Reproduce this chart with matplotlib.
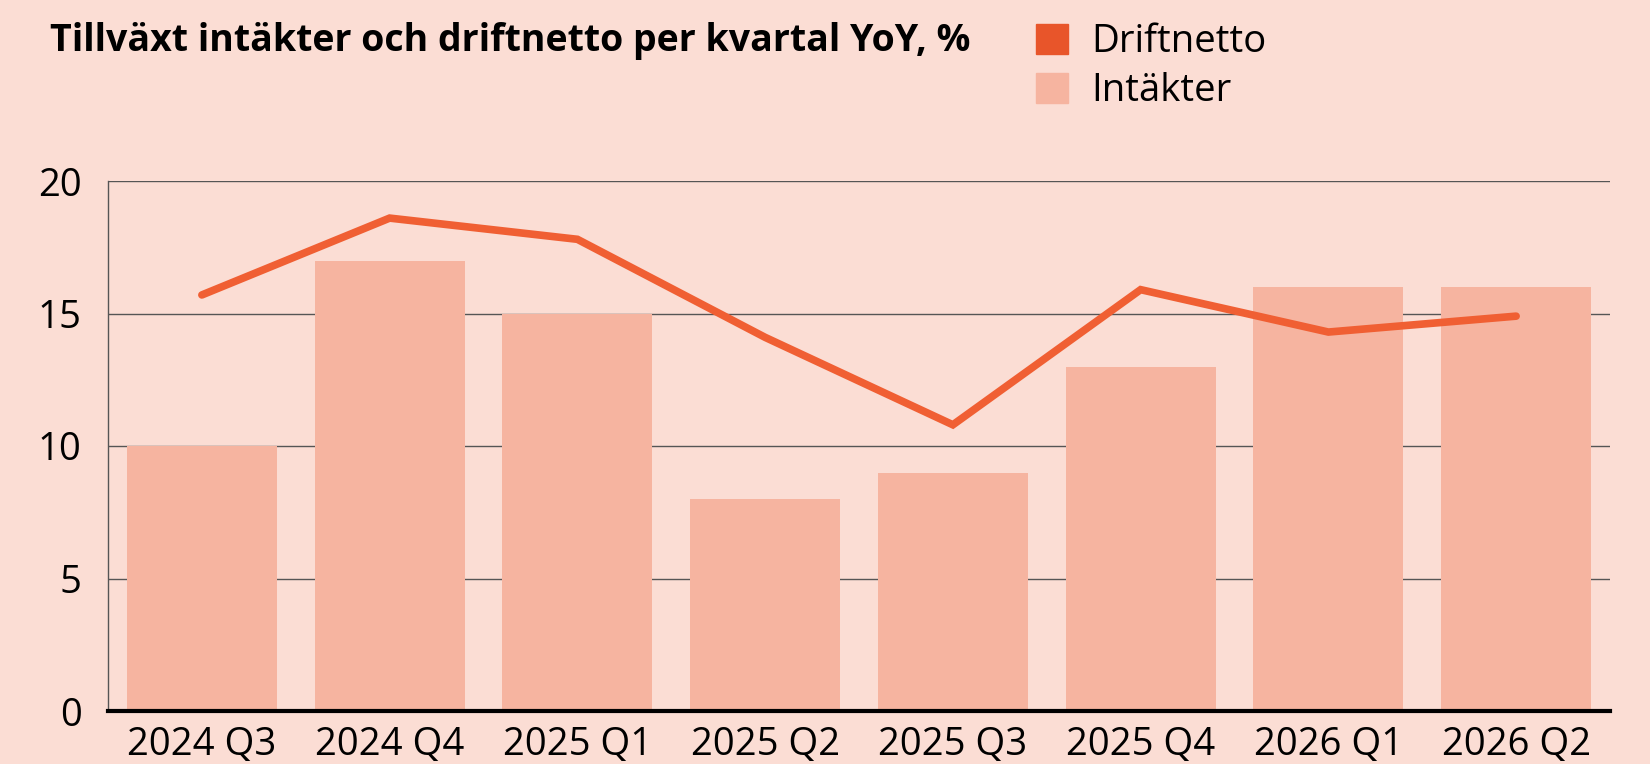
import matplotlib.pyplot as plt
import numpy as np
from matplotlib.patches import Patch

# quarterly YoY growth, %
QUARTERS = ["2024 Q3", "2024 Q4", "2025 Q1", "2025 Q2",
            "2025 Q3", "2025 Q4", "2026 Q1", "2026 Q2"]
INTAKTER = [10, 17, 15, 8, 9, 13, 16, 16]
DRIFTNETTO = [15.7, 18.6, 17.8, 14.1, 10.8, 15.9, 14.3, 14.9]
Y_TICKS = [0, 5, 10, 15, 20]

BG = "#FBDDD4"
BAR_COLOR = "#F6B4A0"
LINE_COLOR = "#F05F33"
LEGEND_LINE = "#E8552A"

plt.rcParams["font.family"] = ["Open Sans", "DejaVu Sans"]

fig = plt.figure(figsize=(16.5, 7.64), dpi=100, facecolor=BG)
ax = fig.add_axes([108 / 1650, 53 / 764, (1610 - 108) / 1650, (711 - 181) / 764])
ax.set_facecolor(BG)

x = np.arange(len(QUARTERS))
ax.bar(x, INTAKTER, width=0.8, color=BAR_COLOR, zorder=2)
ax.plot(x, DRIFTNETTO, color=LINE_COLOR, linewidth=5.5,
        solid_capstyle="round", solid_joinstyle="miter", zorder=3)

ax.set_xlim(-0.5, len(QUARTERS) - 0.5)
ax.set_ylim(0, 20)
ax.set_yticks(Y_TICKS)
ax.set_xticks(x)
ax.set_xticklabels(QUARTERS)
ax.tick_params(axis="both", length=0, labelsize=27.5, colors="black")
ax.tick_params(axis="x", pad=11)
ax.tick_params(axis="y", pad=19)

ax.grid(axis="y", color="#555555", linewidth=1.0, zorder=1)
ax.set_axisbelow(True)
for side in ("top", "right"):
    ax.spines[side].set_visible(False)
ax.spines["left"].set_color("#555555")
ax.spines["left"].set_linewidth(1.0)
ax.spines["bottom"].set_color("black")
ax.spines["bottom"].set_linewidth(3.0)
ax.spines["bottom"].set_zorder(4)

fig.text(50 / 1650, 1 - 51 / 764, "Tillväxt intäkter och driftnetto per kvartal YoY, %",
         fontsize=27, fontweight="bold", ha="left", va="baseline")

handles = [Patch(color=LEGEND_LINE, label="Driftnetto"),
           Patch(color=BAR_COLOR, label="Intäkter")]
fig.legend(handles=handles, loc="upper left",
           bbox_to_anchor=(1036 / 1650, 1 - 23 / 764),
           frameon=False, fontsize=27.5, handlelength=0.85, handleheight=0.85,
           handletextpad=0.6, labelspacing=0.3, borderaxespad=0, borderpad=0)

fig.savefig("out.png", dpi=100, facecolor=BG)
